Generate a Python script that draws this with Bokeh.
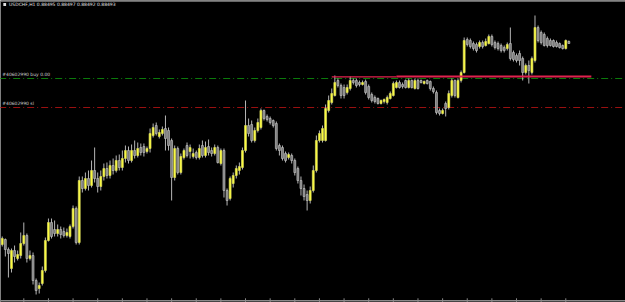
from bokeh.plotting import figure
from bokeh.models import Range1d, ColumnDataSource
from bokeh.embed import file_html
from bokeh.resources import INLINE
from bokeh.core.properties import value

# Chart rows (screen-like price scale: smaller number = higher price)
opens = [244, 239, 249, 268, 250, 258, 255, 243, 235, 258, 255, 280, 288, 283, 270, 240,
         222, 229, 233, 229, 231, 235, 236, 226, 208, 242,
         180, 188, 178, 185, 170, 178, 186, 176, 168, 175, 165, 170, 160, 167, 158, 150, 160, 150, 155,
         147, 146, 151, 148, 135, 125, 136, 133, 128, 130, 140, 177, 148, 172, 157, 145, 151, 156, 152,
         157, 145, 155, 146, 150, 153, 147, 163, 150, 190, 198, 183, 175, 170, 167, 150, 125, 124, 140,
         130, 127, 110, 116, 118, 120, 123, 145, 147, 153, 157, 155, 160, 168, 180, 188, 194, 200, 190,
         170, 140, 140, 140, 110, 102, 95, 80, 85, 87, 92, 88, 80, 80, 82, 84, 81, 86, 94, 97, 98, 103,
         101, 102, 98, 95, 87, 82, 84, 80, 87, 80, 88, 80, 80, 83, 80, 81, 88, 92, 110, 113, 103, 107,
         95, 80, 97, 80, 72, 39, 40, 43, 44, 46, 42, 45, 43, 36, 42, 43, 45, 47, 48, 43, 52, 55, 53, 58,
         72, 65, 72, 60, 27, 32, 34, 38, 40, 40, 42, 43, 45, 48, 41]
highs = [236, 238, 247, 248, 245, 250, 232, 222, 233, 250, 252, 278, 282, 266, 237, 218,
         218, 220, 224, 226, 227, 228, 224, 205, 206, 176,
         176, 172, 170, 160, 147, 172, 170, 163, 162, 160, 158, 155, 154, 150, 145, 146, 144, 140, 142,
         143, 143, 146, 128, 123, 122, 129, 126, 115, 127, 138, 145, 146, 153, 148, 142, 144, 148, 150,
         144, 140, 141, 139, 147, 144, 145, 148, 148, 188, 176, 172, 165, 162, 147, 100, 118, 120, 127,
         118, 108, 109, 114, 116, 119, 121, 143, 145, 151, 152, 153, 158, 166, 176, 184, 190, 186, 165,
         135, 130, 125, 104, 95, 88, 75, 78, 83, 84, 84, 76, 78, 78, 80, 80, 79, 84, 92, 95, 97, 99,
         98, 95, 91, 81, 80, 80, 82, 79, 78, 79, 78, 78, 79, 80, 79, 80, 86, 90, 108, 108, 101, 90,
         78, 79, 78, 70, 37, 37, 38, 41, 42, 40, 40, 38, 34, 34, 40, 41, 43, 45, 42, 27, 50, 53, 50, 56,
         63, 60, 56, 15, 25, 30, 32, 36, 38, 39, 40, 42, 44, 39, 40]
lows = [246, 256, 277, 272, 262, 260, 258, 245, 262, 260, 284, 294, 293, 285, 272, 241,
        238, 236, 236, 238, 237, 237, 238, 228, 244, 244,
        192, 190, 190, 187, 182, 192, 190, 180, 178, 178, 174, 172, 170, 170, 162, 163, 162, 158, 157,
        155, 156, 153, 152, 137, 135, 138, 135, 150, 150, 200, 180, 174, 174, 159, 157, 158, 158, 159,
        159, 157, 157, 155, 156, 155, 163, 165, 197, 205, 200, 187, 178, 174, 169, 152, 136, 142, 142,
        132, 129, 120, 121, 124, 127, 150, 155, 160, 162, 159, 163, 175, 183, 195, 200, 210, 203, 192,
        172, 142, 142, 141, 112, 104, 96, 87, 98, 98, 94, 90, 84, 87, 86, 85, 94, 99, 102, 103, 104, 104,
        103, 104, 99, 96, 88, 88, 88, 88, 88, 88, 89, 89, 83, 84, 84, 90, 93, 114, 115, 114, 116, 109,
        97, 97, 98, 82, 73, 46, 48, 50, 52, 48, 48, 46, 44, 46, 49, 50, 52, 52, 50, 60, 61, 62, 65, 80,
        74, 83, 74, 62, 42, 44, 46, 47, 46, 47, 47, 48, 49, 49, 43]
closes = [238, 249, 253, 250, 256, 254, 243, 235, 258, 255, 280, 290, 285, 270, 240, 222,
          236, 233, 229, 234, 235, 232, 226, 208, 242, 180,
          188, 178, 185, 170, 178, 186, 176, 168, 175, 165, 170, 160, 167, 158, 150, 160, 150, 155, 148,
          152, 152, 148, 133, 127, 133, 132, 129, 138, 145, 177, 148, 172, 156, 150, 155, 147, 153, 157,
          148, 155, 147, 152, 153, 147, 162, 150, 190, 200, 178, 175, 168, 166, 150, 125, 133, 140, 130,
          122, 110, 118, 119, 122, 125, 148, 150, 158, 160, 154, 160, 172, 180, 188, 196, 200, 190, 170,
          140, 133, 128, 108, 100, 93, 82, 85, 95, 95, 87, 80, 82, 85, 84, 82, 92, 97, 100, 101, 103, 100,
          99, 97, 93, 83, 82, 87, 86, 87, 80, 87, 80, 88, 82, 81, 83, 88, 91, 112, 113, 110, 108, 93,
          80, 95, 80, 72, 40, 44, 46, 48, 50, 42, 46, 41, 36, 44, 47, 48, 50, 50, 44, 58, 59, 60, 60, 72,
          65, 70, 58, 27, 40, 42, 45, 45, 45, 46, 46, 47, 48, 40, 43]

time_ticks = list(range(7, 184, 8))      # bar indices that carry a time tick
buy_level = 78                            # "#40602990 buy 0.00"
sl_level = 107                            # "#40602990 sl"
red_level = 76                            # solid red line
red_thin_span = (107, 128)                # bars
red_thick_span = (128, 191.3)             # bars
title_text = "USDCHF,H1  0.88495 0.88497 0.88492 0.88493"
buy_label = "#40602990 buy 0.00"
sl_label = "#40602990 sl"

n = len(opens)
idx = list(range(n))
is_up = [c < o for o, c in zip(opens, closes)]   # smaller row = higher price
body_fill = ["#ffff3c" if u else "#7a7a7a" for u in is_up]
body_line = ["#d8d860" if u else "#bdbdbd" for u in is_up]
top = [min(o, c) for o, c in zip(opens, closes)]
bot = [max(o, c) + (0.6 if o == c else 0) for o, c in zip(opens, closes)]

src = ColumnDataSource(dict(x=idx, o=opens, h=highs, l=lows, c=closes,
                            top=top, bot=bot, fill=body_fill, line=body_line))

W, H = 625, 302
p = figure(width=W, height=H, output_backend="svg", toolbar_location=None,
           x_range=Range1d(-0.568, 202.39), y_range=Range1d(302, 0),
           x_axis_type=None, y_axis_type=None, min_border=0,
           background_fill_color="black", border_fill_color="black",
           outline_line_color=None)
p.xgrid.visible = False
p.ygrid.visible = False

# level lines
p.line([-1, 205], [buy_level, buy_level], line_color="#0b7a0b", line_width=1, line_dash="7 3 1 3")
p.line([-1, 205], [sl_level, sl_level], line_color="#9a1010", line_width=1, line_dash="7 3 1 3")

# candles
p.segment(x0="x", y0="h", x1="x", y1="l", source=src, line_color="#b5b5b5", line_width=1)
p.vbar(x="x", width=0.62, top="top", bottom="bot", source=src,
       fill_color="fill", line_color="line", line_width=0.7)

# red solid line
p.line(list(red_thin_span), [red_level + 0.4, red_level + 0.4], line_color="#e0224e", line_width=1.2)
p.line(list(red_thick_span), [red_level, red_level], line_color="#e0224e", line_width=2)

# labels
p.text(x=[0.0], y=[buy_level - 1.5], text=[buy_label], text_color="#d0d0d0",
       text_font=value("DejaVu Sans"), text_font_size="4.5px", text_baseline="bottom")
p.text(x=[0.0], y=[sl_level - 1.5], text=[sl_label], text_color="#d0d0d0",
       text_font=value("DejaVu Sans"), text_font_size="4.5px", text_baseline="bottom")
p.text(x=[2.2], y=[6.5], text=[title_text], text_color="#e0e0e0",
       text_font=value("DejaVu Sans"), text_font_size="4.5px", text_baseline="bottom")
p.rect(x=[0.8], y=[4], width=0.9, height=3, fill_color="#e0e0e0", line_color=None)

# frame: top border, bottom axis with time ticks
p.line([-1, 205], [0.6, 0.6], line_color="#8a8a8a", line_width=1.5)
p.line([-1, 205], [300.3, 300.3], line_color="#8a8a8a", line_width=1.5)
p.segment(x0=time_ticks, y0=[297.8] * len(time_ticks), x1=time_ticks, y1=[302] * len(time_ticks),
          line_color="#8a8a8a", line_width=1)

open("out.html", "w").write(file_html(p, INLINE))
